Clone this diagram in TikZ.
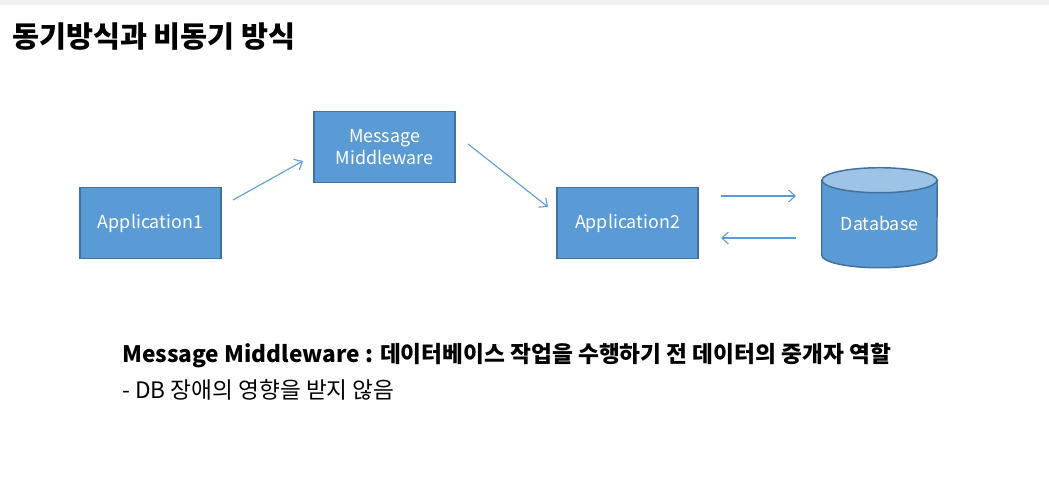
\documentclass[tikz,border=0pt]{standalone}
\usepackage{fontspec}
\setmainfont{Noto Sans CJK KR}
\usetikzlibrary{arrows.meta,calc,backgrounds}
\definecolor{boxfill}{HTML}{5B9BD5}
\definecolor{boxline}{HTML}{41719C}
\definecolor{dbtop}{HTML}{9DC3E6}
\definecolor{barcol}{HTML}{F0F0F0}
\tikzset{
  boxfont/.style={font=\fontsize{13.4}{17}\selectfont},
  box/.style={draw=boxline, line width=1.1pt, fill=boxfill, text=white,
    minimum width=141*0.75pt, minimum height=71*0.75pt, inner sep=0pt,
    align=center, boxfont},
  cyl/.style={draw=boxline, line width=1.1pt},
  flow/.style={draw=boxfill, line width=0.8pt, -{Straight Barb[length=5pt,width=9pt]}},
}
\begin{document}
\begin{tikzpicture}[x=0.75pt,y=-0.75pt]
\useasboundingbox (0,0) rectangle (1049,484);
\begin{scope}[on background layer]
\fill[white] (0,0) rectangle (1049,484);
\fill[barcol] (0,0) rectangle (1049,5);
\end{scope}
\node[anchor=base west, inner sep=0pt, font=\fontsize{22}{26}\selectfont\bfseries] (title) at (12,48) {동기방식과 비동기 방식};

\node[box] (app1) at (150.5,223) {Application1};
\node[box] (mm) at (384.5,147) {Message\\Middleware};
\node[box] (app2) at (627.5,223) {Application2};

% database
\node[inner sep=0pt, minimum width=115*0.75pt, minimum height=87*0.75pt, text=white, boxfont] (db) at (879.5,224) {Database};
\begin{scope}[on background layer]
\filldraw[cyl, fill=boxfill] (db.north west) -- ($(db.south west)+(0,-12.5)$) arc[start angle=180, end angle=0, x radius=57.5, y radius=12.5] -- (db.north east) -- cycle;
\filldraw[cyl, fill=dbtop] (db.north) ellipse[x radius=57.5, y radius=12.5];
\end{scope}

\coordinate (a1s) at (233,200);
\coordinate (a1e) at (303,161);
\coordinate (a2s) at (468,144);
\coordinate (a2e) at (548,207);
\coordinate (a3s) at (721,196);
\coordinate (a3e) at (796,196);
\coordinate (a4s) at (796,238);
\coordinate (a4e) at (721,238);
\draw[flow] (a1s) -- (a1e);
\draw[flow] (a2s) -- (a2e);
\draw[flow] (a3s) -- (a3e);
\draw[flow] (a4s) -- (a4e);

\node[anchor=base west, inner sep=0pt, font=\fontsize{17}{20}\selectfont\bfseries] (t1) at (122,363) {Message Middleware : 데이터베이스 작업을 수행하기 전 데이터의 중개자 역할};
\node[anchor=base west, inner sep=0pt, font=\fontsize{17}{20}\selectfont] (t2) at (122,398) {- DB 장애의 영향을 받지 않음};
\end{tikzpicture}
\end{document}
